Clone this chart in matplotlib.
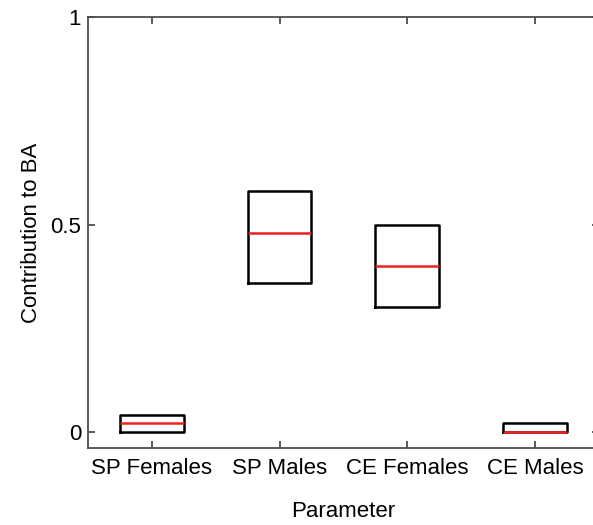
import matplotlib
matplotlib.use("Agg")
import matplotlib.pyplot as plt

plt.rcParams['font.family'] = ['Liberation Sans', 'DejaVu Sans']

categories = ["SP Females", "SP Males", "CE Females", "CE Males"]
q1 = [0.0, 0.36, 0.30, 0.0]
q3 = [0.04, 0.58, 0.50, 0.02]
medians = [0.02, 0.48, 0.40, 0.0]

stats = []
for name, lo, hi, med in zip(categories, q1, q3, medians):
    stats.append({"label": name, "q1": lo, "q3": hi, "med": med,
                  "whislo": lo, "whishi": hi, "fliers": []})

fig = plt.figure(figsize=(5.93, 5.25), dpi=100)
ax = fig.add_axes([88 / 593, 76.7 / 525, 510.8 / 593, 431 / 525])

ax.bxp(stats, positions=range(1, len(categories) + 1), widths=0.5,
       showcaps=False,
       boxprops=dict(color="black", linewidth=1.8),
       medianprops=dict(color="#ee2222", linewidth=1.8),
       whiskerprops=dict(linewidth=0))

ax.set_xlim(0.5, 4.5)
ax.set_ylim(-0.04, 1)
ax.set_yticks([0, 0.5, 1])
ax.set_yticklabels(["0", "0.5", "1"])

axis_color = "#4d4d4d"
for s in ax.spines.values():
    s.set_color(axis_color)
    s.set_linewidth(1.3)
ax.tick_params(direction="in", length=5, width=1.3, color=axis_color,
               top=True, right=True, labelsize=16, labelcolor="black", pad=5)
ax.tick_params(axis="x", pad=7)

ax.set_xlabel("Parameter", fontsize=16, labelpad=16)
ax.set_ylabel("Contribution to BA", fontsize=16, labelpad=6)

fig.savefig("out.png", dpi=100)
